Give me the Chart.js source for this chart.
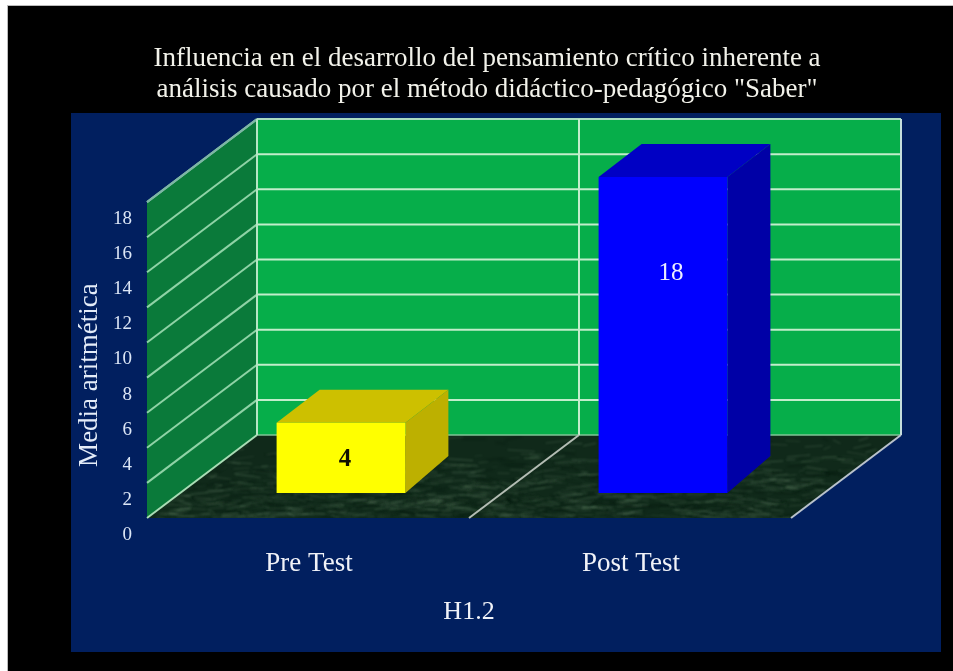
<!DOCTYPE html>
<html>
<head>
<meta charset="utf-8">
<style>
html,body{margin:0;padding:0;background:#fff;overflow:hidden}
canvas{display:block;filter:blur(0.6px)}
</style>
<script src="https://cdn.jsdelivr.net/npm/chart.js@4"></script>
</head>
<body>
<canvas id="c" width="953" height="671"></canvas>
<script>
const categories = ["Pre Test", "Post Test"];
const values = [4, 18];
const barColors = ["#FFFF00", "#0000FF"];
const barTopColors = ["#CDC000", "#0000C4"];
const barSideColors = ["#BDB000", "#0000A6"];
const valueColors = ["#111100", "#EDEDFF"];
const valueFonts = ["bold 25px 'Liberation Serif'", "25px 'Liberation Serif'"];
const titleLines = ["Influencia en el desarrollo del pensamiento crítico inherente a",
                    "análisis causado por el método didáctico-pedagógico \"Saber\""];
const yTitle = "Media aritmética";
const xTitle = "H1.2";

const SERIF = "'Liberation Serif'";
const FRONT = {dx: 0, dy: -15};
const BACK = {dx: 110, dy: -98};
const BARS = {dx: 33, dy: -40};
const DEPTH = {dx: 43, top: 33, bottom: 37};
const LABEL_POS = [{fx: 0.5, off: 4}, {fx: 0.3, off: 8}];

function hash(i){ const s = Math.sin(i * 12.9898) * 43758.5453; return s - Math.floor(s); }
function poly(ctx, pts, fill){
  ctx.beginPath();
  pts.forEach((p, i) => i ? ctx.lineTo(p[0], p[1]) : ctx.moveTo(p[0], p[1]));
  ctx.closePath();
  if (fill){ ctx.fillStyle = fill; ctx.fill(); }
}
function seg(ctx, a, b, color, w){
  ctx.beginPath(); ctx.moveTo(a[0], a[1]); ctx.lineTo(b[0], b[1]);
  ctx.strokeStyle = color; ctx.lineWidth = w; ctx.stroke();
}

const stage = {
  id: "stage",
  beforeDraw(chart){
    const c = chart.ctx;
    c.save();
    c.fillStyle = "#fff"; c.fillRect(0, 0, 953, 671);
    c.fillStyle = "#bbb"; c.fillRect(7, 5, 946, 666);
    c.fillStyle = "#000"; c.fillRect(8, 6, 945, 665);
    c.fillStyle = "#011F5F"; c.fillRect(71, 113, 870, 539);
    c.restore();
  },
  beforeDatasetsDraw(chart){
    const c = chart.ctx, xs = chart.scales.x, ys = chart.scales.y;
    const half = xs.getPixelForValue(1) - xs.getPixelForValue(0);
    const x0 = xs.getPixelForValue(0) - half / 2;
    const xm = x0 + half, x1 = x0 + 2 * half;
    const yb = ys.getPixelForValue(0), yt = ys.getPixelForValue(18);
    const F = (x, y) => [x + FRONT.dx, y + FRONT.dy];
    const B = (x, y) => [x + BACK.dx, y + BACK.dy];
    c.save();
    // back wall, side wall
    poly(c, [B(x0, yt), B(x1, yt), B(x1, yb), B(x0, yb)], "#06AE4A");
    poly(c, [F(x0, yt), B(x0, yt), B(x0, yb), F(x0, yb)], "#0A7A3A");
    // floor
    const fl = [F(x0, yb), B(x0, yb), B(x1, yb), F(x1, yb)];
    poly(c, fl, "#10291A");
    c.save();
    poly(c, fl); c.clip();
    c.filter = "blur(1.2px)";
    const W = x1 + BACK.dx - x0, H = F(x0, yb)[1] - B(x0, yb)[1];
    for (let i = 1; i < 1300; i++){
      const px = x0 + hash(i) * W, t = hash(i + 5000);
      const py = B(x0, yb)[1] + Math.sqrt(t) * H;
      const len = 6 + hash(i + 9000) * 22, tilt = (hash(i + 13000) - 0.5) * 8;
      const a = 0.06 + 0.24 * hash(i + 17000);
      c.strokeStyle = i % 4 === 0 ? "rgba(4,22,12," + (a + 0.4) + ")" : "rgba(150,185,150," + a + ")";
      c.lineWidth = 1;
      c.beginPath(); c.moveTo(px, py); c.lineTo(px + len, py + tilt); c.stroke();
    }
    c.restore();
    // grid lines from the value axis ticks
    ys.ticks.forEach(t => {
      const p = ys.getPixelForValue(t.value);
      if (t.value === 0) return;
      seg(c, F(x0, p), B(x0, p), "#8FD3A6", 2);
      seg(c, B(x0, p), B(x1, p), "#C2EDCB", 2);
    });
    seg(c, B(x0, yb), B(x1, yb), "#7FC596", 1.5);
    seg(c, F(x0, yt), B(x0, yt), "#7DB5A6", 2);
    seg(c, B(x0, yt), B(x1, yt), "#A9DCC0", 2);
    seg(c, B(x0, yt), B(x0, yb), "#B6E6C4", 2);
    seg(c, B(xm, yt), B(xm, yb), "#C2EDCB", 2);
    seg(c, B(x1, yt), B(x1, yb), "#C5DEDC", 2);
    seg(c, F(x0, yb), B(x0, yb), "#A9DDB5", 2);
    seg(c, F(xm, yb), B(xm, yb), "#B4BDB4", 2);
    seg(c, F(x1, yb), B(x1, yb), "#B9C2CC", 2);
    c.restore();
  },
  beforeDatasetDraw(chart){
    const c = chart.ctx;
    c.save();
    c.translate(BARS.dx, BARS.dy);
    chart.getDatasetMeta(0).data.forEach((el, i) => {
      const l = el.x - el.width / 2, r = el.x + el.width / 2;
      poly(c, [[l, el.y], [l + DEPTH.dx, el.y - DEPTH.top], [r + DEPTH.dx, el.y - DEPTH.top], [r, el.y]], barTopColors[i]);
      poly(c, [[r, el.y], [r + DEPTH.dx, el.y - DEPTH.top], [r + DEPTH.dx, el.base - DEPTH.bottom], [r, el.base]], barSideColors[i]);
    });
  },
  afterDatasetDraw(chart){ chart.ctx.restore(); },
  afterDatasetsDraw(chart){
    const c = chart.ctx;
    c.save();
    c.textAlign = "center"; c.textBaseline = "middle";
    chart.getDatasetMeta(0).data.forEach((el, i) => {
      c.font = valueFonts[i];
      c.fillStyle = valueColors[i];
      const pos = LABEL_POS[i];
      c.fillText(String(values[i]), el.x + BARS.dx + pos.off, el.y + BARS.dy + (el.base - el.y) * pos.fx + 2);
    });
    c.restore();
  }
};

new Chart(document.getElementById("c"), {
  type: "bar",
  data: {
    labels: categories,
    datasets: [{
      data: values,
      backgroundColor: barColors,
      borderWidth: 0,
      barPercentage: 0.4,
      categoryPercentage: 1,
      clip: false
    }]
  },
  plugins: [stage],
  options: {
    responsive: false,
    animation: false,
    layout: {padding: {left: 21, right: 0, top: 0, bottom: 0}},
    plugins: {
      legend: {display: false},
      tooltip: {enabled: false},
      title: {
        display: true,
        text: titleLines,
        color: "#F2F2EA",
        font: {family: SERIF, size: 27, weight: "normal", lineHeight: 1.15},
        padding: {top: 43, bottom: 112}
      }
    },
    scales: {
      x: {
        grid: {display: false, drawTicks: false},
        border: {display: false},
        ticks: {color: "#F0F2F8", font: {family: SERIF, size: 27}, padding: 15, labelOffset: 1},
        title: {display: true, text: xTitle, color: "#F0F2F8",
                font: {family: SERIF, size: 26}, padding: {top: 0, bottom: 43}},
        afterFit(s){ s.height = 138; }
      },
      y: {
        min: 0, max: 18,
        grid: {display: false, drawTicks: false},
        border: {display: false},
        ticks: {stepSize: 2, color: "#DCE6F6", font: {family: SERIF, size: 19}, padding: 15, labelOffset: 2},
        title: {display: true, text: yTitle, color: "#E4ECF8",
                font: {family: SERIF, size: 27}, padding: {top: 53, bottom: 0}},
        afterFit(s){ s.width = 126; }
      },
      spacer: {
        position: "right",
        grid: {display: false, drawTicks: false},
        border: {display: false},
        ticks: {display: false},
        afterFit(s){ s.width = 162; }
      }
    }
  }
});
</script>
</body>
</html>
